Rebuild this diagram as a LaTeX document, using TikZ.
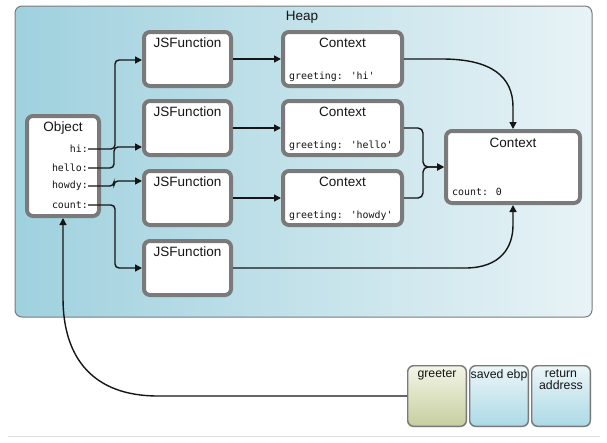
\documentclass[tikz,border=0pt]{standalone}
\usepackage{fontspec}
\setmainfont{Liberation Sans}
\newfontfamily\monofont{DejaVu Sans Mono}
\usetikzlibrary{arrows.meta,calc}
\definecolor{heapL}{HTML}{9FD1DE}
\definecolor{heapR}{HTML}{E8F3F6}
\definecolor{boxline}{HTML}{7A7A7A}
\definecolor{grL}{HTML}{C6CE9E}
\definecolor{grR}{HTML}{F3F5E8}
\definecolor{blL}{HTML}{ABD9E6}
\definecolor{blR}{HTML}{EDF6F8}
\definecolor{ink}{HTML}{151515}
\tikzset{
  objbox/.style={draw=boxline, line width=4pt, fill=white, rounded corners=6pt, inner sep=0pt},
  ttl/.style={font=\fontsize{13.5}{15}\selectfont, inner sep=0pt, text=ink},
  fld/.style={font=\monofont\fontsize{9.9}{11}\selectfont, inner sep=0pt, text=ink},
  stk/.style={draw=boxline, line width=1.4pt, rounded corners=6pt, inner sep=0pt, minimum width=58.6pt, minimum height=60.6pt},
  stktxt/.style={font=\fontsize{12.3}{13}\selectfont, inner sep=0pt, text=ink, align=center},
  conn/.style={draw=ink, line width=1.4pt, -{Triangle[length=7pt,width=7pt]}},
  plain/.style={draw=ink, line width=1.4pt}
}
\begin{document}
\begin{tikzpicture}[x=1pt,y=-1pt]
\useasboundingbox (0,0) rectangle (607,442);
\fill[white] (0,0) rectangle (607,442);
% heap
\shade[left color=heapL, right color=heapR, rounded corners=7pt]
  (15,6) rectangle (592,317);
\draw[draw=boxline, line width=1pt, rounded corners=7pt] (15,6) rectangle (592,317);
\node[ttl] (heap) at (302,17) {Heap};
% bottom rule
\draw[draw=black!12, line width=1pt] (8,436) -- (600,436);
% object
\node[objbox, minimum width=72pt, minimum height=100pt] (obj) at (63,166) {};
\node[ttl] (objt) at (63,128) {Object};
\node[fld, anchor=east] (fhi) at (88,149) {hi:};
\node[fld, anchor=east] (fhello) at (88,168) {hello:};
\node[fld, anchor=east] (fhowdy) at (88,186) {howdy:};
\node[fld, anchor=east] (fcount) at (88,205) {count:};
% JSFunctions
\node[objbox, minimum width=87pt, minimum height=54pt] (jf1) at (187.5,59) {};
\node[objbox, minimum width=87pt, minimum height=54pt] (jf2) at (187.5,128) {};
\node[objbox, minimum width=87pt, minimum height=54pt] (jf3) at (187.5,198) {};
\node[objbox, minimum width=87pt, minimum height=54pt] (jf4) at (187.5,268) {};
\node[ttl] (jf1t) at (187.5,43) {JSFunction};
\node[ttl] (jf2t) at (187.5,112) {JSFunction};
\node[ttl] (jf3t) at (187.5,182) {JSFunction};
\node[ttl] (jf4t) at (187.5,252) {JSFunction};
% Contexts
\node[objbox, minimum width=119pt, minimum height=54pt] (c1) at (342.5,59) {};
\node[objbox, minimum width=119pt, minimum height=54pt] (c2) at (342.5,128) {};
\node[objbox, minimum width=119pt, minimum height=54pt] (c3) at (342.5,198) {};
\node[ttl] (c1t) at (342.5,43) {Context};
\node[ttl] (c2t) at (342.5,112) {Context};
\node[ttl] (c3t) at (342.5,182) {Context};
\node[fld, anchor=west] (c1f) at (289,77) {greeting: 'hi'};
\node[fld, anchor=west] (c2f) at (289,146) {greeting: 'hello'};
\node[fld, anchor=west] (c3f) at (289,216) {greeting: 'howdy'};
% big context
\node[objbox, minimum width=134pt, minimum height=72pt] (big) at (513,167) {};
\node[ttl] (bigt) at (513,143) {Context};
\node[fld, anchor=west] (bigf) at (452,192) {count: 0};
% stack
\begin{scope}[y=1pt]
\shade[top color=grR, bottom color=grL, rounded corners=6pt] (407,-365) rectangle (467,-427);
\shade[top color=blR, bottom color=blL, rounded corners=6pt] (469,-365) rectangle (529,-427);
\shade[top color=blR, bottom color=blL, rounded corners=6pt] (531,-365) rectangle (591,-427);
\end{scope}
\node[stk] (greeter) at (437,396) {};
\node[stk] (ebp) at (499,396) {};
\node[stk] (ret) at (561,396) {};
\node[stktxt] (greetert) at (437,375) {greeter};
\node[stktxt] (ebpt) at (499,375) {saved ebp};
\node[stktxt, anchor=north] (rett) at (561,369) {return\\[-1pt]address};
% object -> JSFunctions
\draw[conn, rounded corners=4pt] (fhi.east) -| ($(jf1.west)+(-27,1)$) -- ($(jf1.west)+(0,1)$);
\draw[conn, rounded corners=4pt] (fhello.east) -| ($(jf2.west)+(-28,19)$) -- ($(jf2.west)+(0,19)$);
\draw[conn, rounded corners=4pt] (fhowdy.east) -| ($(jf3.west)+(-28,-17)$) -- ($(jf3.west)+(0,-17)$);
\draw[conn, rounded corners=4pt] (fcount.east) -| ($(jf4.west)+(-27,0)$) -- (jf4.west);
% JSFunctions -> Contexts
\draw[conn] (jf1.east) -- (c1.west);
\draw[conn] (jf2.east) -- (c2.west);
\draw[conn] (jf3.east) -- (c3.west);
% contexts -> big context
\draw[conn] (c1.east) -- ($(c1.east)+(38,0)$) .. controls ($(c1.east)+(88,0)$) and ($(big.north)+(0,-52)$) .. ($(big.north)+(0,-22)$) -- (big.north);
\draw[conn, rounded corners=5pt] (c2.east) -| ($(big.west)+(-21,0)$) -- (big.west);
\draw[conn, rounded corners=5pt] (c3.east) -| ($(big.west)+(-21,0)$) -- (big.west);
\draw[conn] (jf4.east) -- ($(jf4.east)+(232,0)$) .. controls ($(jf4.east)+(268,0)$) and ($(big.south)+(0,42)$) .. ($(big.south)+(0,20)$) -- (big.south);
% stack -> object
\draw[conn] (greeter.west) -- ($(obj.south)+(95,178)$) .. controls ($(obj.south)+(30,178)$) and ($(obj.south)+(0,140)$) .. ($(obj.south)+(0,80)$) -- (obj.south);
\end{tikzpicture}
\end{document}
